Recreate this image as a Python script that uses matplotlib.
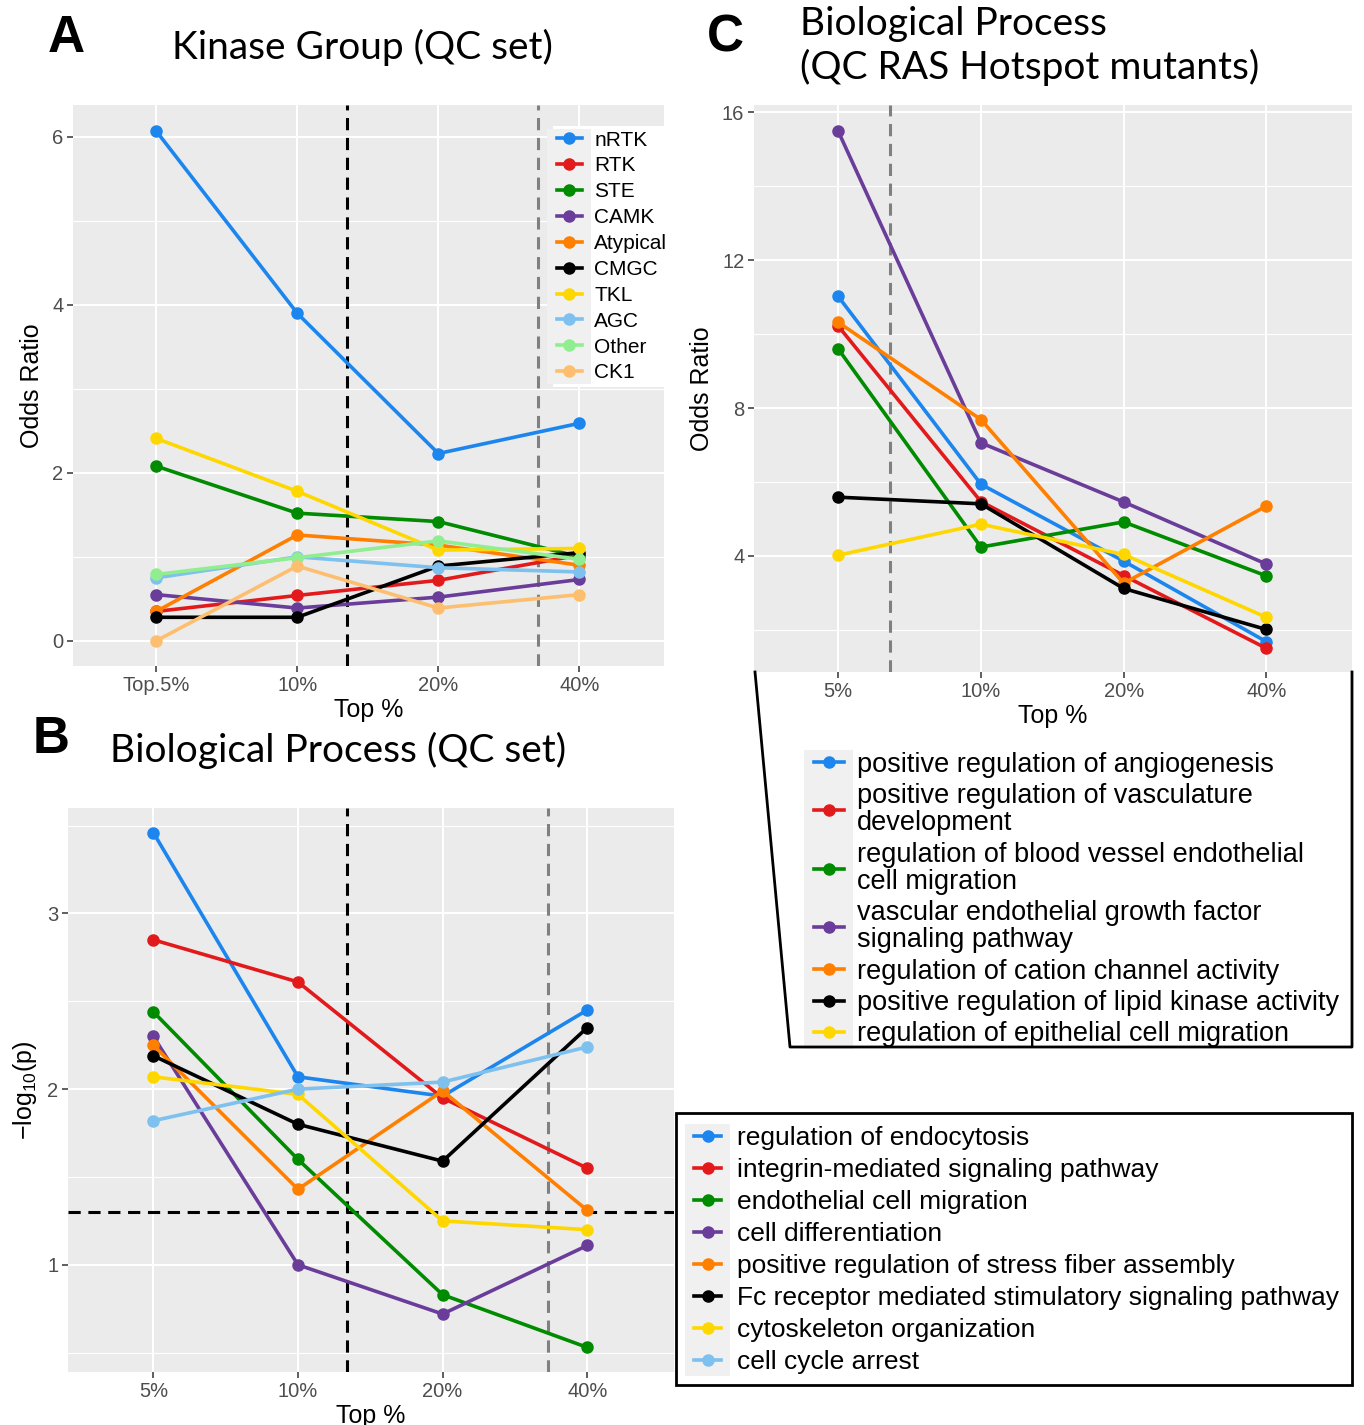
import matplotlib.pyplot as plt
import numpy as np
from matplotlib.lines import Line2D
from matplotlib.patches import Rectangle
from matplotlib.transforms import IdentityTransform, Bbox

plt.rcParams['font.family'] = ['Liberation Sans', 'DejaVu Sans']

W, H = 1364, 1425

# ---- data ----
top_labels_A = ['Top.5%', '10%', '20%', '40%']
top_labels = ['5%', '10%', '20%', '40%']

kinase_groups = ['nRTK', 'RTK', 'STE', 'CAMK', 'Atypical', 'CMGC', 'TKL', 'AGC', 'Other', 'CK1']
kinase_colors = ['#1C86EE', '#E31A1C', '#008B00', '#6A3D9A', '#FF7F00',
                 '#000000', '#FFD700', '#7EC0EE', '#90EE90', '#FDBF6F']
kinase_or = [
    [6.07, 3.90, 2.23, 2.59],
    [0.35, 0.54, 0.72, 1.02],
    [2.08, 1.52, 1.42, 1.00],
    [0.55, 0.39, 0.52, 0.73],
    [0.35, 1.26, 1.14, 0.90],
    [0.28, 0.28, 0.89, 1.05],
    [2.41, 1.78, 1.08, 1.10],
    [0.75, 1.00, 0.87, 0.82],
    [0.79, 0.99, 1.19, 0.97],
    [0.00, 0.89, 0.39, 0.55],
]

bp_terms = ['regulation of endocytosis', 'integrin-mediated signaling pathway',
            'endothelial cell migration', 'cell differentiation',
            'positive regulation of stress fiber assembly',
            'Fc receptor mediated stimulatory signaling pathway',
            'cytoskeleton organization', 'cell cycle arrest']
bp_colors = ['#1C86EE', '#E31A1C', '#008B00', '#6A3D9A', '#FF7F00', '#000000', '#FFD700', '#7EC0EE']
bp_logp = [
    [3.46, 2.07, 1.96, 2.45],
    [2.85, 2.61, 1.95, 1.55],
    [2.44, 1.60, 0.83, 0.53],
    [2.30, 1.00, 0.72, 1.11],
    [2.25, 1.43, 1.99, 1.31],
    [2.19, 1.80, 1.59, 2.35],
    [2.07, 1.97, 1.25, 1.20],
    [1.82, 2.00, 2.04, 2.24],
]

ras_terms = ['positive regulation of angiogenesis',
             'positive regulation of vasculature\ndevelopment',
             'regulation of blood vessel endothelial\ncell migration',
             'vascular endothelial growth factor\nsignaling pathway',
             'regulation of cation channel activity',
             'positive regulation of lipid kinase activity',
             'regulation of epithelial cell migration']
ras_colors = ['#1C86EE', '#E31A1C', '#008B00', '#6A3D9A', '#FF7F00', '#000000', '#FFD700']
ras_or = [
    [11.02, 5.94, 3.86, 1.68],
    [10.22, 5.47, 3.47, 1.50],
    [9.60, 4.24, 4.92, 3.46],
    [15.49, 7.06, 5.46, 3.78],
    [10.32, 7.69, 3.26, 5.35],
    [5.59, 5.41, 3.12, 2.01],
    [4.02, 4.86, 4.04, 2.34],
]

# reference lines
A_black_x, A_gray_x = 1.355, 2.71
B_black_x, B_gray_x, B_hline = 1.34, 2.73, 1.301
C_gray_x = 0.36

x = np.arange(4)


def ax_at(left, top, right, bottom):
    return fig.add_axes([left / W, 1 - bottom / H, (right - left) / W, (bottom - top) / H])


def gg(ax, ylim, major, minor, labels):
    ax.set_facecolor('#EBEBEB')
    for s in ax.spines.values():
        s.set_visible(False)
    ax.set_xlim(-0.59, 3.6)
    ax.set_ylim(*ylim)
    ax.set_xticks(x, labels)
    ax.set_yticks(major)
    ax.set_yticks(minor, minor=True)
    ax.grid(which='major', color='white', lw=1.5)
    ax.grid(which='minor', axis='y', color='white', lw=0.8)
    ax.set_axisbelow(True)
    ax.tick_params(color='#333333', labelcolor='#4D4D4D', labelsize=14.5, length=4, width=1.1, pad=3)
    ax.tick_params(which='minor', length=0)


def lines(ax, values, colors):
    for v, c in zip(values, colors):
        ax.plot(x, v, color=c, lw=2.6, marker='o', ms=8, zorder=3)


def vdash(ax, xv, color):
    ax.axvline(xv, color=color, lw=2.2, ls=(0, (4, 2.5)), zorder=2)


def handles(colors):
    return [Line2D([], [], color=c, lw=2.6, marker='o', ms=8) for c in colors]


fig = plt.figure(figsize=(W / 100, H / 100), dpi=100)

# ---- panel A ----
axA = ax_at(73, 105, 664, 666)
gg(axA, (-0.30, 6.38), [0, 2, 4, 6], [1, 3, 5], top_labels_A)
vdash(axA, A_black_x, 'black')
vdash(axA, A_gray_x, '#808080')
lines(axA, kinase_or, kinase_colors)
axA.set_xlabel('Top %', fontsize=18, labelpad=2)
axA.set_ylabel('Odds Ratio', fontsize=18, labelpad=6)

# ---- panel B ----
axB = ax_at(68, 808, 674, 1372)
gg(axB, (0.39, 3.60), [1, 2, 3], [0.5, 1.5, 2.5, 3.5], top_labels)
vdash(axB, B_black_x, 'black')
vdash(axB, B_gray_x, '#808080')
axB.axhline(B_hline, color='black', lw=2.2, ls=(0, (4, 2.5)), zorder=2)
lines(axB, bp_logp, bp_colors)
axB.set_xlabel('Top %', fontsize=18, labelpad=2)
axB.set_ylabel(r'$\mathregular{-log_{10}(p)}$', fontsize=18, labelpad=6)

# ---- panel C ----
axC = ax_at(754, 105, 1352, 672)
gg(axC, (0.86, 16.2), [4, 8, 12, 16], [2, 6, 10, 14], top_labels)
vdash(axC, C_gray_x, '#808080')
lines(axC, ras_or, ras_colors)
axC.set_xlabel('Top %', fontsize=18, labelpad=2)
axC.set_ylabel('Odds Ratio', fontsize=18, labelpad=6)

# ---- titles ----
tfont = ['Lato', 'DejaVu Sans']
fig.text(48 / W, 1 - 38 / H, 'A', fontsize=37, weight='bold', va='center')
fig.text(362 / W, 1 - 47 / H, 'Kinase Group (QC set)', fontsize=28, family=tfont, ha='center', va='center')
fig.text(33 / W, 1 - 740 / H, 'B', fontsize=37, weight='bold', va='center')
fig.text(338 / W, 1 - 750 / H, 'Biological Process (QC set)', fontsize=28, family=tfont, ha='center', va='center')
fig.text(707 / W, 1 - 38 / H, 'C', fontsize=37, weight='bold', va='center')
fig.text(800 / W, 1 - 46 / H, 'Biological Process\n(QC RAS Hotspot mutants)', fontsize=28, family=tfont,
         ha='left', va='center', linespacing=1.2)

# ---- legends ----
legA = fig.legend(handles(kinase_colors), kinase_groups, loc='upper right',
                  bbox_to_anchor=(682 / W, 1 - 116 / H), frameon=False, fontsize=15,
                  labelspacing=0.33, handlelength=1.2, handletextpad=0.6, borderpad=0.2)
legB = fig.legend(handles(bp_colors), bp_terms, loc='upper left',
                  bbox_to_anchor=(676 / W, 1 - 1108 / H), frameon=False, fontsize=19,
                  labelspacing=0.3, handlelength=1.0, handletextpad=0.6, borderpad=0.2)
legC = fig.legend(handles(ras_colors), ras_terms, loc='upper left',
                  bbox_to_anchor=(795 / W, 1 - 733 / H), frameon=False, fontsize=19.5,
                  labelspacing=0.2, handlelength=1.1, handletextpad=0.5, borderpad=0.2)
for t in legC.get_texts():
    t.set_linespacing(1.05)

# B legend border
fig.add_artist(Rectangle((676 / W, 1 - 1385 / H), (1352 - 676) / W, (1385 - 1113) / H,
                         transform=fig.transFigure, fill=False, ec='black', lw=2, zorder=4))
# C callout outline
fig.add_artist(Line2D(np.array([755, 790, 1352, 1352]) / W, 1 - np.array([672, 1047, 1047, 672]) / H,
                      transform=fig.transFigure, color='black', lw=2, zorder=4))

# legend backgrounds and key strips
fig.canvas.draw()
r = fig.canvas.get_renderer()
axA_right = axA.get_window_extent(r).x1
for leg, bg in [(legA, 'white'), (legB, None), (legC, None)]:
    bb = leg.get_window_extent(r)
    if bg:
        x1 = min(bb.x1, axA_right)
        fig.add_artist(Rectangle((bb.x0, bb.y0), x1 - bb.x0, bb.height, transform=IdentityTransform(),
                                 fc=bg, ec='none', zorder=1))
    hb = Bbox.union([h.get_window_extent(r) for h in leg.legend_handles])
    tb = Bbox.union([t.get_window_extent(r) for t in leg.get_texts()])
    fig.add_artist(Rectangle((hb.x0 - 4, tb.y0 - 2), hb.width + 8, tb.height + 4,
                             transform=IdentityTransform(), fc='#F0F0F0', ec='none', zorder=1.5))

fig.savefig('out.png', dpi=100)
